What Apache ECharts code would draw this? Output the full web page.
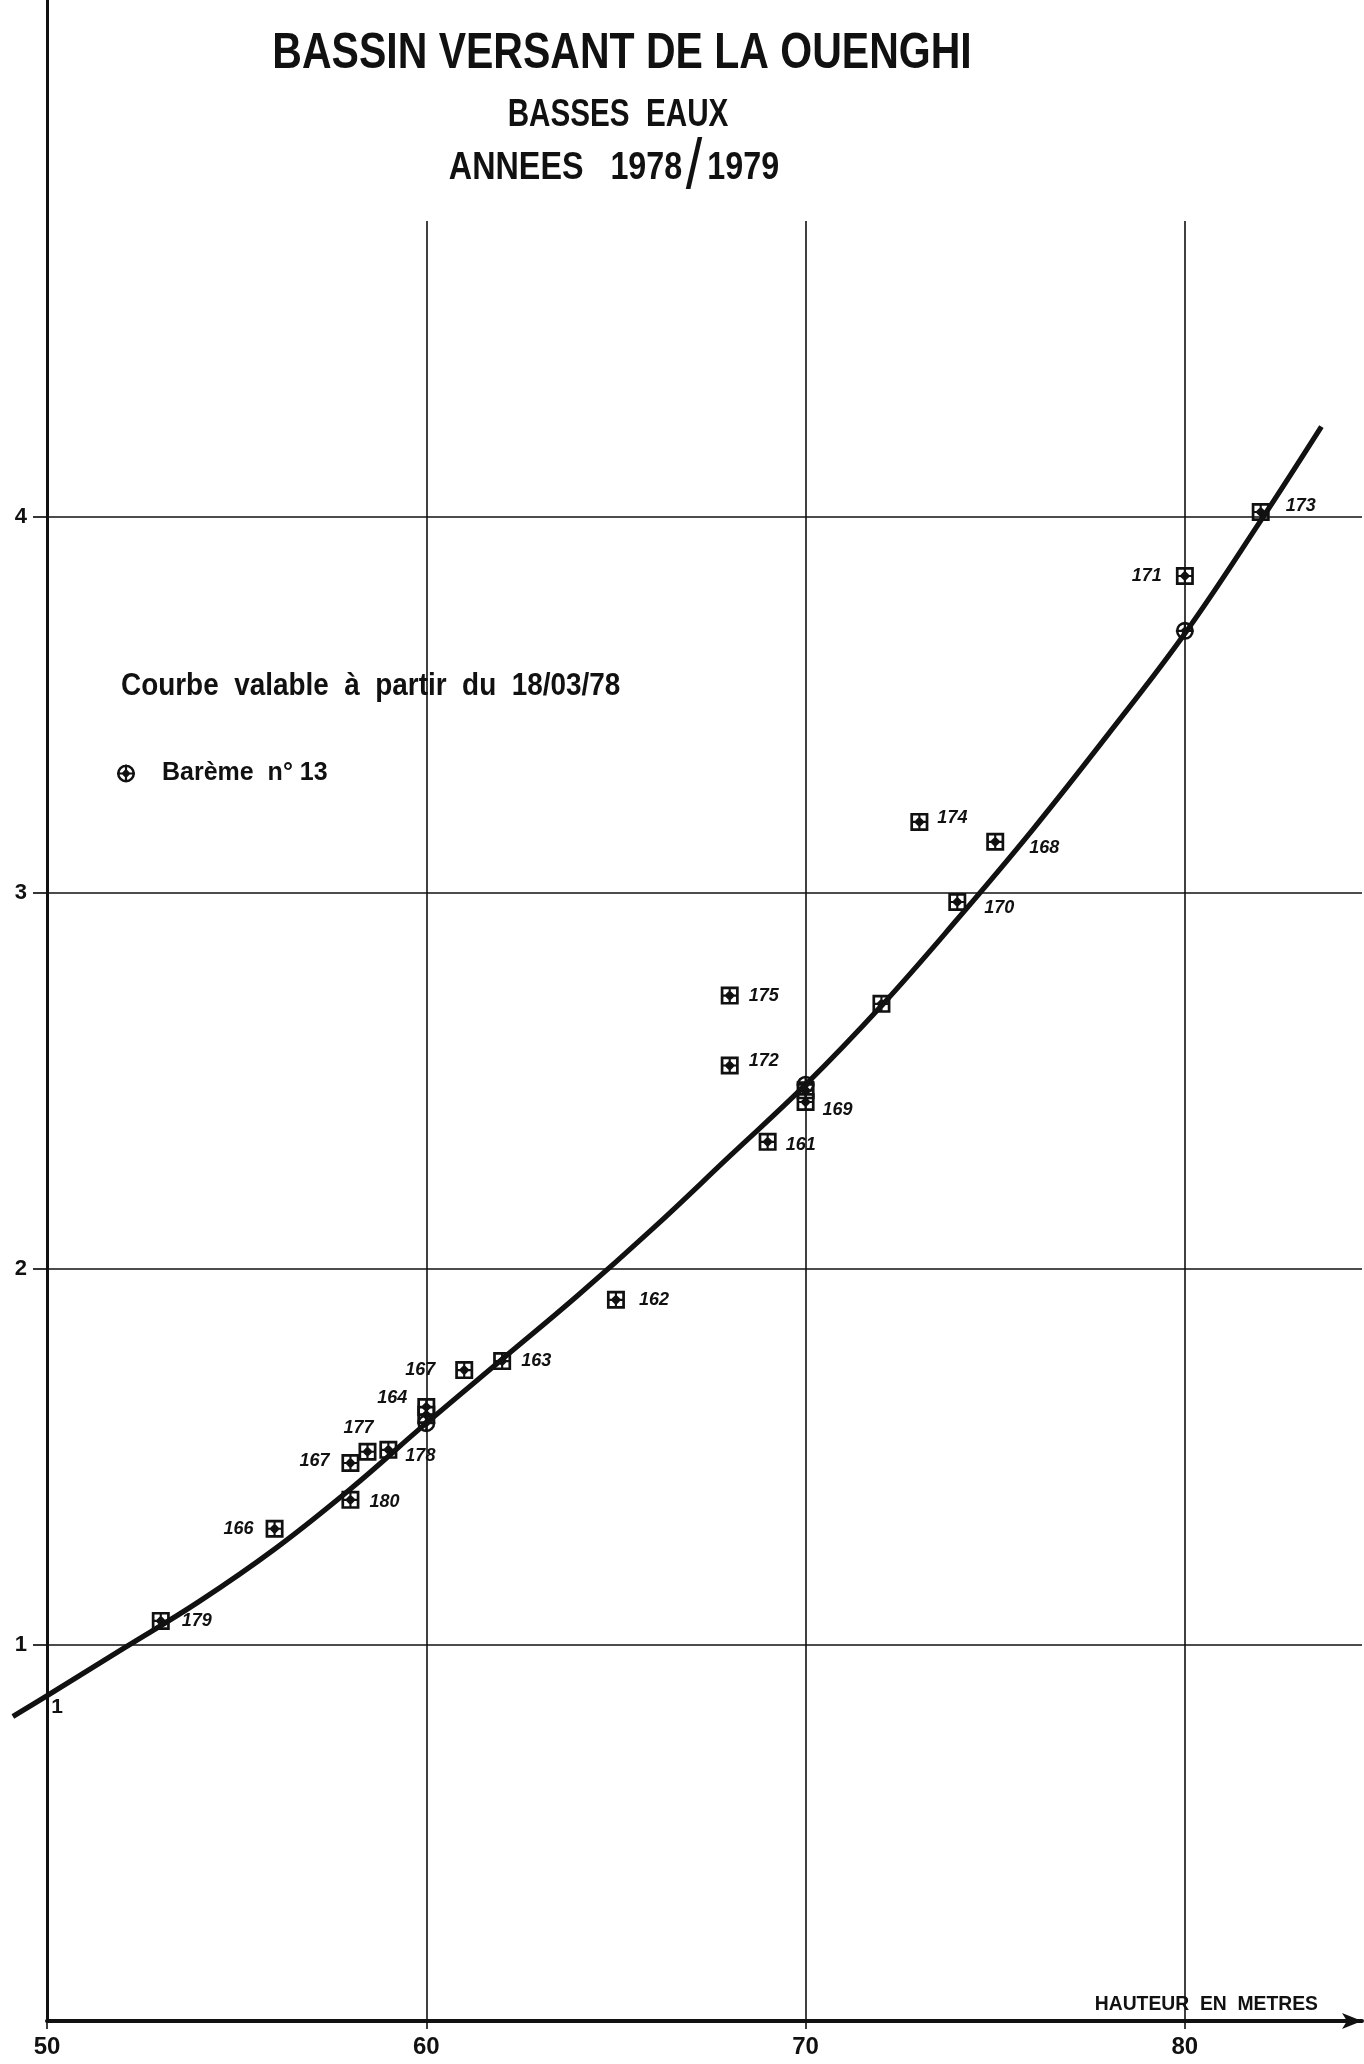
<!DOCTYPE html>
<html>
<head>
<meta charset="utf-8">
<title>Bassin versant de la Ouenghi - basses eaux 1978/1979</title>
<script src="https://cdn.jsdelivr.net/npm/echarts@6/dist/echarts.min.js"></script>
<style>
  html, body { margin: 0; padding: 0; background: #ffffff; }
  #chart { width: 1364px; height: 2064px; }
</style>
</head>
<body>
<div id="chart"></div>
<script>
// Jaugeages : hauteur à l'échelle, débit mesuré, numéro du jaugeage
const jaugeHauteur = [53, 56, 58, 58, 58.45, 59, 60, 60, 61, 62, 65, 68, 68, 69, 70, 70, 72, 73, 74, 75, 80, 82];
const jaugeDebit   = [1.064, 1.309, 1.386, 1.484, 1.514, 1.519, 1.612, 1.633, 1.731, 1.755, 1.918,
                      2.541, 2.727, 2.338, 2.444, 2.475, 2.705, 3.189, 2.976, 3.136, 3.843, 4.013];
const jaugeNumero  = ['179', '166', '180', '167', '177', '178', '164', '167', '', '163', '162',
                      '172', '175', '161', '169', '', '', '174', '170', '168', '171', '173'];

// Points du barème n° 13
const baremeHauteur = [60, 70, 80];
const baremeDebit   = [1.59, 2.49, 3.697];

// Courbe de tarage (valable à partir du 18/03/78)
const courbeHauteur = [49.1, 50, 52, 54, 56, 58, 60, 62, 64, 66, 68, 70, 72, 74, 76, 78, 80, 82, 83.6];
const courbeDebit   = [0.81, 0.865, 0.99, 1.115, 1.255, 1.415, 1.59, 1.76, 1.93, 2.11, 2.30,
                       2.49, 2.70, 2.93, 3.17, 3.425, 3.69, 3.99, 4.24];

// Graduations
const xTickValues = [50, 60, 70, 80];
const yTickValues = [1, 2, 3, 4];

// Placement of the gauging numbers around their markers: [position, distance, offset]
const numeroPlacement = [
  ['right', 12, [0, 0]],
  ['left', 12, [0, 0]],
  ['right', 10, [0, 2]],
  ['left', 12, [0, -2]],
  ['top', 6, [-9, 0]],
  ['right', 8, [0, 6]],
  ['left', 10, [0, -17]],
  ['top', 19, [-6, 0]],
  null,
  ['right', 10, [0, 0]],
  ['right', 14, [0, 0]],
  ['right', 10, [0, -5]],
  ['right', 10, [0, 0]],
  ['right', 9, [0, 3]],
  ['right', 8, [0, 8]],
  null,
  null,
  ['right', 9, [0, -4]],
  ['right', 18, [0, 6]],
  ['right', 25, [0, 6]],
  ['left', 14, [0, 0]],
  ['right', 16, [0, -6]]
];

const INK = '#111111';
const SANS = '"Liberation Sans", Arial, sans-serif';

// Square marker with a cross and a filled diamond (gauging)
const SYMBOL_JAUGE = 'path://M0 0H100V100H0Z M15 15V85H85V15Z M44 0H56V100H44Z M0 44H100V56H0Z M50 20L80 50L50 80L20 50Z';
// Circle marker with a cross and a filled diamond (rating table point)
const SYMBOL_BAREME = 'path://M50 0A50 50 0 1 1 50 100A50 50 0 1 1 50 0Z M50 14A36 36 0 1 0 50 86A36 36 0 1 0 50 14Z M44 0H56V100H44Z M0 44H100V56H0Z M50 24L76 50L50 76L24 50Z';

const courbeData = courbeHauteur.map((h, i) => [h, courbeDebit[i]]);
const baremeData = baremeHauteur.map((h, i) => [h, baremeDebit[i]]);
const jaugeData = jaugeHauteur.map((h, i) => {
  const item = { value: [h, jaugeDebit[i], jaugeNumero[i]] };
  const p = numeroPlacement[i];
  if (p && jaugeNumero[i]) {
    item.label = { show: true, position: p[0], distance: p[1], offset: p[2] };
  } else {
    item.label = { show: false };
  }
  return item;
});

const chart = echarts.init(document.getElementById('chart'), null, { renderer: 'canvas' });

const option = {
  backgroundColor: '#ffffff',
  animation: false,
  grid: [
    // plotting area: vertical grid lines start below the heading
    { left: 9.07, right: 2, top: 221, bottom: 43 },
    // frame: the ordinate axis runs up to the top of the sheet
    { left: 47, right: 2, top: 0, bottom: 43 }
  ],
  xAxis: [
    {
      gridIndex: 0,
      type: 'value',
      min: 49,
      max: 84.67,
      axisLine: { show: false },
      axisTick: {
        show: true,
        customValues: xTickValues,
        length: 8,
        lineStyle: { color: INK, width: 1.6 }
      },
      axisLabel: {
        show: true,
        customValues: xTickValues,
        margin: 14,
        color: INK,
        fontFamily: SANS,
        fontWeight: 'bold',
        fontSize: 24
      },
      splitLine: {
        show: true,
        lineStyle: { color: INK, width: 1.6 }
      }
    },
    {
      gridIndex: 1,
      type: 'value',
      min: 50,
      max: 84.67,
      axisLine: {
        show: true,
        symbol: ['none', 'arrow'],
        symbolSize: [12, 20],
        lineStyle: { color: INK, width: 4 }
      },
      axisTick: { show: false },
      axisLabel: { show: false },
      splitLine: { show: false }
    }
  ],
  yAxis: [
    {
      gridIndex: 0,
      type: 'value',
      min: 0,
      max: 4.787,
      show: false
    },
    {
      gridIndex: 1,
      type: 'value',
      min: 0,
      max: 5.375,
      axisLine: { show: true, lineStyle: { color: INK, width: 3 } },
      axisTick: {
        show: true,
        customValues: yTickValues,
        length: 14,
        lineStyle: { color: INK, width: 1.7 }
      },
      axisLabel: {
        show: true,
        customValues: yTickValues,
        margin: 20,
        color: INK,
        fontFamily: SANS,
        fontWeight: 'bold',
        fontSize: 22
      },
      splitLine: {
        show: true,
        lineStyle: { color: INK, width: 1.7 }
      }
    }
  ],
  legend: {
    left: 112,
    top: 756,
    orient: 'vertical',
    selectedMode: false,
    itemWidth: 18,
    itemHeight: 18,
    data: [{ name: 'Barème  n° 13', icon: SYMBOL_BAREME }],
    textStyle: {
      color: INK,
      fontFamily: SANS,
      fontWeight: 'bold',
      fontSize: 25,
      padding: [0, 0, 0, 22]
    }
  },
  graphic: [
    {
      type: 'text', x: 622, y: 54, scaleX: 0.82, silent: true,
      style: {
        text: 'BASSIN VERSANT DE LA OUENGHI',
        fill: INK, fontFamily: SANS, fontWeight: 'bold', fontSize: 50,
        align: 'center', verticalAlign: 'middle'
      }
    },
    {
      type: 'text', x: 618, y: 116, scaleX: 0.78, silent: true,
      style: {
        text: 'BASSES  EAUX',
        fill: INK, fontFamily: SANS, fontWeight: 'bold', fontSize: 38,
        align: 'center', verticalAlign: 'middle'
      }
    },
    {
      type: 'text', x: 614, y: 169, scaleX: 0.85, silent: true,
      style: {
        text: '{a|ANNEES   1978}{s|/}{a|1979}',
        fill: INK, align: 'center', verticalAlign: 'middle',
        rich: {
          a: { fill: INK, fontFamily: SANS, fontWeight: 'bold', fontSize: 38 },
          s: { fill: INK, fontFamily: SANS, fontWeight: 'normal', fontSize: 70, padding: [0, 6, 0, 4] }
        }
      }
    },
    {
      type: 'text', x: 121, y: 686, scaleX: 0.9, silent: true,
      style: {
        text: 'Courbe  valable  à  partir  du  18/03/78',
        fill: INK, fontFamily: SANS, fontWeight: 'bold', fontSize: 31,
        align: 'left', verticalAlign: 'middle'
      }
    },
    {
      type: 'text', x: 1318, y: 2004, scaleX: 0.92, silent: true,
      style: {
        text: 'HAUTEUR  EN  METRES',
        fill: INK, fontFamily: SANS, fontWeight: 'bold', fontSize: 21,
        align: 'right', verticalAlign: 'middle'
      }
    },
    {
      type: 'text', x: 57, y: 1707, silent: true,
      style: {
        text: '1',
        fill: INK, fontFamily: SANS, fontWeight: 'bold', fontSize: 21,
        align: 'center', verticalAlign: 'middle'
      }
    }
  ],
  series: [
    {
      name: 'Courbe',
      type: 'line',
      xAxisIndex: 0,
      yAxisIndex: 0,
      data: courbeData,
      smooth: 0.4,
      showSymbol: false,
      symbol: 'none',
      silent: true,
      z: 4,
      lineStyle: { color: INK, width: 5.2 }
    },
    {
      name: 'Jaugeages',
      type: 'scatter',
      xAxisIndex: 0,
      yAxisIndex: 0,
      data: jaugeData,
      symbol: SYMBOL_JAUGE,
      symbolSize: 18,
      silent: true,
      z: 3,
      itemStyle: { color: INK, opacity: 1 },
      label: {
        show: true,
        formatter: (p) => p.value[2],
        color: INK,
        fontFamily: SANS,
        fontStyle: 'italic',
        fontWeight: 'bold',
        fontSize: 18
      }
    },
    {
      name: 'Barème  n° 13',
      type: 'scatter',
      xAxisIndex: 0,
      yAxisIndex: 0,
      data: baremeData,
      symbol: SYMBOL_BAREME,
      symbolSize: 18,
      silent: true,
      z: 3,
      itemStyle: { color: INK, opacity: 1 }
    }
  ]
};

chart.setOption(option);
</script>
</body>
</html>
